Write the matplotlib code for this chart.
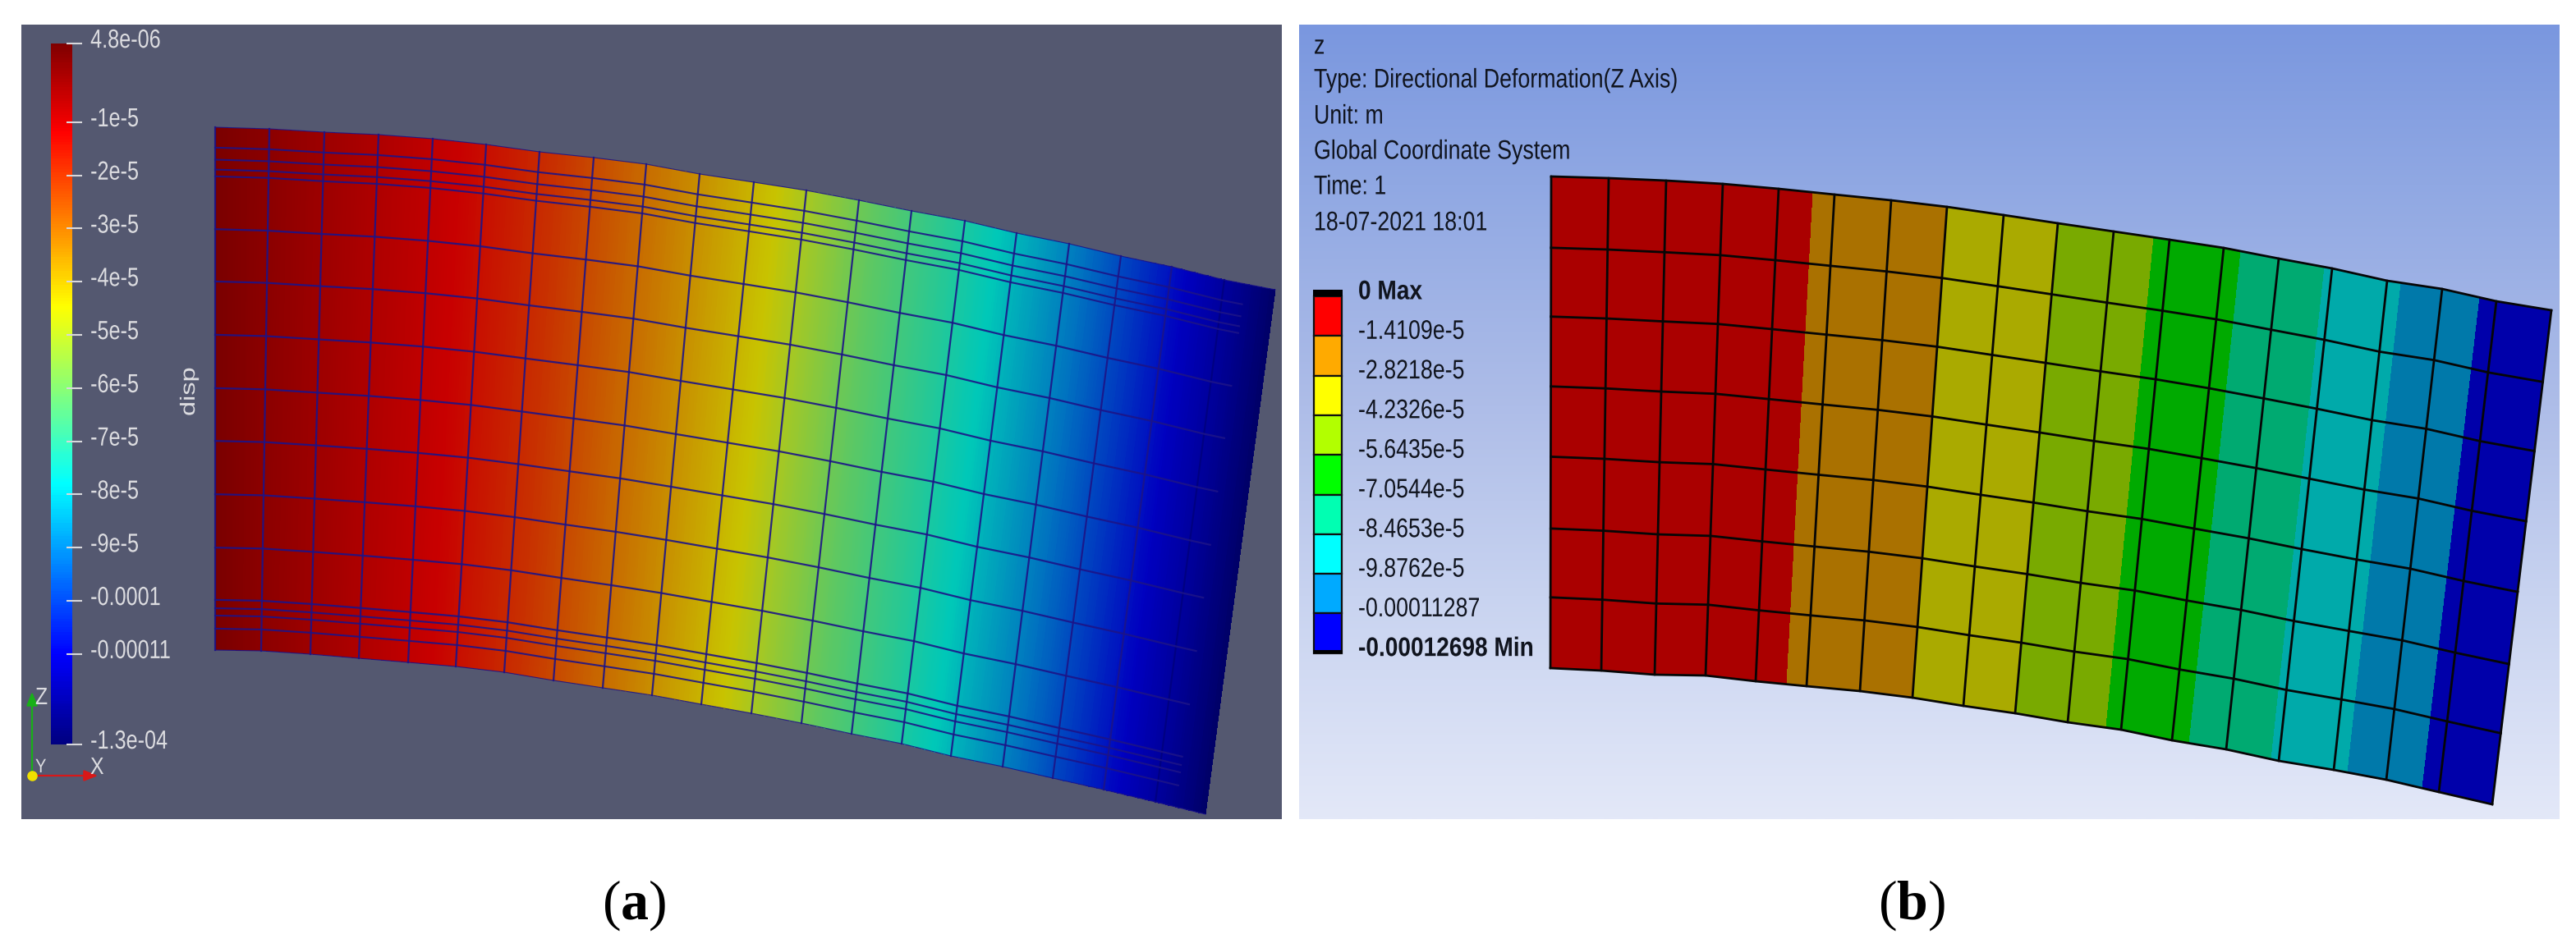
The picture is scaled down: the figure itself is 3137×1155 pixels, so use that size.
import numpy as np
import matplotlib
matplotlib.use('Agg')
import matplotlib.pyplot as plt
from matplotlib.colors import LinearSegmentedColormap, ListedColormap, to_rgb
from matplotlib.patheffects import AbstractPathEffect
from matplotlib.transforms import Affine2D

plt.rcParams['font.family'] = ['Liberation Sans', 'DejaVu Sans']
plt.rcParams['mathtext.fontset'] = 'custom'
plt.rcParams['mathtext.rm'] = 'Liberation Serif'
plt.rcParams['mathtext.bf'] = 'Liberation Serif:bold'


class Squeeze(AbstractPathEffect):
    # squeeze text along its direction, both screenshots use narrow fonts
    def __init__(self, sx):
        super().__init__()
        self.sx = sx

    def draw_path(self, renderer, gc, tpath, affine, rgbFace=None):
        renderer.draw_path(gc, tpath, Affine2D().scale(self.sx, 1) + affine, rgbFace)


# panel (a): mesh (pixels)
a_top_x = [262, 328, 395, 461, 527, 592, 657, 723, 787, 852, 918, 982, 1046, 1110, 1175, 1238, 1302, 1365, 1427, 1491, 1553]
a_top_y = [155, 157, 161, 164, 169, 176, 185, 192, 200, 212, 222, 232, 244, 257, 269, 284, 297, 312, 325, 341, 353]
a_bot_x = [262, 318, 378, 437, 497, 555, 614, 674, 734, 794, 854, 915, 976, 1037, 1098, 1158, 1221, 1282, 1344, 1407, 1468]
a_bot_y = [792, 793, 797, 802, 807, 812, 819, 829, 838, 847, 858, 869, 881, 894, 906, 921, 934, 948, 962, 977, 992]
a_rows = [0, .195, .295, .397, .499, .600, .702, .804, .904, 1]
a_fine_rows = [.039, .062, .081, .094, .920, .934, .959]

# smooth field of (a) along the mesh
field_pos = [0, 4.5, 6.3, 7.7, 9.05, 10.46, 11.15, 12.3, 14.65, 16.35, 18.3, 19.3, 20]
field_colors = ['#7a0000', '#c80000', '#c83000', '#c86000', '#c89000', '#c8c400', '#a0c828',
                '#60c860', '#00c8b8', '#0070c0', '#0000c0', '#000090', '#000068']

# colour bar of (a)
cbar_vmax = 4.8e-6
cbar_vmin = -1.27e-4
cbar_vals = [4.8e-6, -1.17e-5, -4.45e-5, -7.8e-5, -1.1e-4, -1.27e-4]
cbar_colors = ['#800000', '#ff0000', '#ffff00', '#00ffff', '#0000ff', '#000080']
cbar_ticks = [4.8e-6, -1e-5, -2e-5, -3e-5, -4e-5, -5e-5, -6e-5, -7e-5, -8e-5, -9e-5, -1e-4, -1.1e-4, -1.27e-4]
cbar_labels = ['4.8e-06', '-1e-5', '-2e-5', '-3e-5', '-4e-5', '-5e-5', '-6e-5', '-7e-5', '-8e-5', '-9e-5',
               '-0.0001', '-0.00011', '-1.3e-04']

# panel (b): mesh
b_top_x = [1889, 1959, 2029, 2098, 2166, 2234, 2303, 2371, 2440, 2506, 2574, 2642, 2708, 2775, 2840, 2907, 2974, 3040, 3107]
b_top_y = [215, 217, 220, 224, 230, 237, 244, 252, 262, 272, 282, 292, 302, 315, 327, 342, 352, 367, 378]
b_bot_x = [1888, 1950, 2015, 2077, 2138, 2200, 2265, 2329, 2391, 2454, 2518, 2583, 2645, 2711, 2775, 2842, 2906, 2970, 3035]
b_bot_y = [814, 817, 822, 823, 830, 836, 842, 850, 860, 869, 880, 889, 902, 913, 927, 938, 950, 965, 980]
b_rows = [0, .145, .285, .427, .570, .716, .856, 1]
b_band_edges = [4.62, 7.0, 9.0, 10.72, 12.32, 13.86, 15.26, 16.69]
b_band_colors = ['#aa0000', '#aa7100', '#aaaa00', '#79aa00', '#00aa00', '#00aa71', '#00aaaa', '#0079aa', '#0000aa']

# legend of (b)
legend_colors = ['#ff0000', '#ffaa00', '#ffff00', '#b2ff00', '#00ff00', '#00ffb2', '#00ffff', '#00aaff', '#0000ff']
legend_labels = ['0 Max', '-1.4109e-5', '-2.8218e-5', '-4.2326e-5', '-5.6435e-5', '-7.0544e-5',
                 '-8.4653e-5', '-9.8762e-5', '-0.00011287', '-0.00012698 Min']
header_lines = ['z', 'Type: Directional Deformation(Z Axis)', 'Unit: m', 'Global Coordinate System',
                'Time: 1', '18-07-2021 18:01']
header_y = [57, 98, 142, 185, 228, 272]

bg_stops = ['#7a97df', '#90a8e3', '#aebde8', '#c8d3f0', '#e3e8f8']

W, H = 3137, 1155
fig = plt.figure(figsize=(W / 100, H / 100), dpi=100, facecolor='white')
ax = fig.add_axes([0, 0, 1, 1])
ax.set_xlim(0, W)
ax.set_ylim(H, 0)
ax.axis('off')


def mesh_xy(s, t, top_x, top_y, bot_x, bot_y):
    idx = np.arange(len(top_x))
    xt, yt = np.interp(s, idx, top_x), np.interp(s, idx, top_y)
    xb, yb = np.interp(s, idx, bot_x), np.interp(s, idx, bot_y)
    return xt + (xb - xt) * t, yt + (yb - yt) * t


# ---- panel a ----
ax.fill_between([26, 1561], 30, 998, color='#545870', lw=0, zorder=0)

field_cmap = LinearSegmentedColormap.from_list(
    'field', [(p / 20, c) for p, c in zip(field_pos, field_colors)], N=512)
s_fine = np.linspace(0, 20, 401)
S, T = np.meshgrid(s_fine, np.array([0, 1]))
X, Y = mesh_xy(S, T, a_top_x, a_top_y, a_bot_x, a_bot_y)
ax.pcolormesh(X, Y, (S[:-1, :-1] + S[1:, 1:]) / 2, cmap=field_cmap, vmin=0, vmax=20,
              shading='flat', antialiased=False, zorder=1)

a_line = '#1c1488'
for i in range(20):
    xs, ys = mesh_xy(np.full(2, i), np.array([0, 1]), a_top_x, a_top_y, a_bot_x, a_bot_y)
    ax.plot(xs, ys, color=a_line if i < 19 else '#000080', lw=1.6, alpha=0.9, zorder=2)
s_int = np.append(np.arange(20), 19.4)
for t in a_rows:
    s_row = np.arange(21) if t in (0, 1) else s_int
    xs, ys = mesh_xy(s_row, np.full(len(s_row), t), a_top_x, a_top_y, a_bot_x, a_bot_y)
    ax.plot(xs, ys, color=a_line, lw=1.6 if 0 < t < 1 else 0.8, alpha=0.9, zorder=2)
for t in a_fine_rows:
    xs, ys = mesh_xy(s_int, np.full(len(s_int), t), a_top_x, a_top_y, a_bot_x, a_bot_y)
    ax.plot(xs, ys, color=a_line, lw=1.5, alpha=0.9, zorder=2)

# colour bar on its own value scale
cax = fig.add_axes([62 / W, 1 - 907 / H, 26 / W, (907 - 53) / H])
cmap_a = LinearSegmentedColormap.from_list(
    'rainbow_a',
    [((v - cbar_vmin) / (cbar_vmax - cbar_vmin), c) for v, c in sorted(zip(cbar_vals, cbar_colors))], N=512)
grad_y = np.linspace(cbar_vmin, cbar_vmax, 257)
cax.pcolormesh([0, 1], grad_y, ((grad_y[:-1] + grad_y[1:]) / 2).reshape(-1, 1), cmap=cmap_a,
               vmin=cbar_vmin, vmax=cbar_vmax, shading='flat')
cax.set_ylim(cbar_vmin, cbar_vmax)
cax.axis('off')
cax.hlines(cbar_ticks, 0.73, 1.46, transform=cax.get_yaxis_transform(), color='#d8d8dc', lw=1.5, clip_on=False)
for v, lab in zip(cbar_ticks, cbar_labels):
    cax.text(1.85, v + 4.5e-7, lab, transform=cax.get_yaxis_transform(), color='#dcdce0', fontsize=23,
             va='center', ha='left', clip_on=False, path_effects=[Squeeze(0.79)])

ax.text(230, 507, 'disp', color='#dcdce0', fontsize=18, rotation=90, ha='center', va='bottom', zorder=5,
        path_effects=[Squeeze(1.3)])

# orientation triad
ax.annotate('', xy=(39, 840), xytext=(39, 945),
            arrowprops=dict(arrowstyle='-|>,head_width=0.4,head_length=1.0', color='#18b018', lw=1.6))
ax.annotate('', xy=(122, 945), xytext=(39, 945),
            arrowprops=dict(arrowstyle='-|>,head_width=0.4,head_length=1.0', color='#d81818', lw=1.6))
ax.plot([39], [945], 'o', color='#f0e000', ms=8, zorder=6)
ax.text(43, 850, 'Z', color='#dcdce0', fontsize=21, ha='left', va='center', path_effects=[Squeeze(0.85)])
ax.text(43, 935, 'Y', color='#dcdce0', fontsize=17, ha='left', va='center', path_effects=[Squeeze(0.85)])
ax.text(110, 935, 'X', color='#dcdce0', fontsize=21, ha='left', va='center', path_effects=[Squeeze(0.85)])

# ---- panel b ----
bg_rgb = np.array([to_rgb(c) for c in bg_stops])
grad_pos = np.linspace(0, 1, 256)
grad_pos_stops = [0, 0.2, 0.48, 0.72, 1]
bg_img = np.stack([np.interp(grad_pos, grad_pos_stops, bg_rgb[:, k]) for k in range(3)], axis=1)[:, None, :]
ax.imshow(bg_img, extent=(1582, 3117, 998, 30), aspect='auto', zorder=0, interpolation='bilinear')
ax.set_xlim(0, W)
ax.set_ylim(H, 0)

s_knots = np.unique(np.concatenate([np.arange(19.0), b_band_edges]))
S, T = np.meshgrid(s_knots, np.array([0.0, 1.0]))
X, Y = mesh_xy(S, T, b_top_x, b_top_y, b_bot_x, b_bot_y)
mids = (s_knots[:-1] + s_knots[1:]) / 2
band = np.searchsorted(b_band_edges, mids).reshape(1, -1)
ax.pcolormesh(X, Y, band, cmap=ListedColormap(b_band_colors), vmin=-0.5, vmax=8.5,
              shading='flat', antialiased=False, zorder=1)

s_int = np.arange(19)
for i in s_int:
    xs, ys = mesh_xy(np.full(2, i), np.array([0, 1]), b_top_x, b_top_y, b_bot_x, b_bot_y)
    ax.plot(xs, ys, color='#060606', lw=2.0, zorder=2, solid_capstyle='round')
for t in b_rows:
    xs, ys = mesh_xy(s_int, np.full(19, t), b_top_x, b_top_y, b_bot_x, b_bot_y)
    ax.plot(xs, ys, color='#060606', lw=2.0, zorder=2)

# header text
for y, line in zip(header_y, header_lines):
    ax.text(1600, y, line, color='#10141e', fontsize=23.5, ha='left', va='center', zorder=5,
            path_effects=[Squeeze(0.82)])

# stacked legend, one box per level
leg_top, leg_step = 361, 48.3
for i, c in enumerate(legend_colors):
    ax.bar(1617, leg_step, width=34, bottom=leg_top + i * leg_step, color=c,
           edgecolor='#101010', lw=1.6, zorder=3)
ax.bar(1617, 8, width=36, bottom=353, color='black', lw=0, zorder=4)
ax.bar(1617, 4, width=36, bottom=leg_top + 9 * leg_step - 4, color='black', lw=0, zorder=4)
for i, lab in enumerate(legend_labels):
    bold = i in (0, len(legend_labels) - 1)
    ax.text(1654, 356 + i * 48.3, lab, color='#10141e', fontsize=23.5, ha='left', va='center',
            fontweight='bold' if bold else 'normal', zorder=5,
            path_effects=[Squeeze(0.86 if bold else 0.82)])

# captions
for x, tag in zip([772, 2328], ['a', 'b']):
    ax.text(x, 1103, r'($\mathbf{%s}$)' % tag, fontsize=49, color='black', ha='center', va='center',
            fontfamily='Liberation Serif')

fig.savefig('out.png', dpi=100)
